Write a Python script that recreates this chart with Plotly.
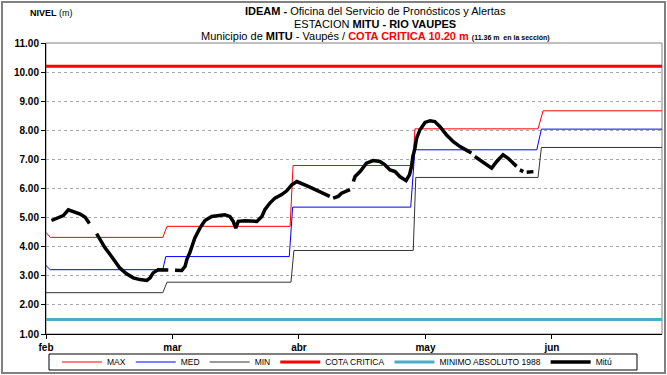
import plotly.graph_objects as go

# Eje X: días contados desde el 1 de febrero (etiquetas cada 30 días)
tick_dias = [0, 30, 60, 90, 120]
tick_meses = ["feb", "mar", "abr", "may", "jun"]
dia_final = 146.1

# Niveles históricos mensuales (m): máximo, medio y mínimo
max_dia = [0, 1, 27.7, 28.7, 57.9, 58.6, 87.0, 87.5, 116.7, 117.9, dia_final]
max_nivel = [4.49, 4.32, 4.32, 4.70, 4.70, 6.79, 6.79, 8.05, 8.05, 8.67, 8.67]

med_dia = [0, 1, 27.7, 28.4, 57.7, 58.5, 86.5, 87.5, 116.4, 117.5, dia_final]
med_nivel = [3.35, 3.21, 3.21, 3.66, 3.66, 5.36, 5.36, 7.33, 7.33, 8.04, 8.04]

min_dia = [0, 27.7, 28.7, 58.1, 58.8, 87.1, 87.7, 116.7, 117.5, dia_final]
min_nivel = [2.42, 2.42, 2.78, 2.78, 3.87, 3.87, 6.38, 6.38, 7.41, 7.41]

# Referencias fijas (m)
cota_critica = 10.20
minimo_absoluto_1988 = 1.50

# Nivel observado en Mitú (None = sin dato)
mitu_dia = [
    1.3, 2.9, 4.1, 5.3, 6.5, 8.1, 9.3, 10.3, None,
    12.0, 12.8, 14.0, 15.2, 16.4, 17.5, 19.1, 20.7, 22.3, 23.9, 24.7, 25.4,
    26.6, 27.8, 29.0, None,
    30.6, 32.2, 33.0, 33.4, 34.1, 34.6, 35.3, 36.5, 37.7, 39.3, 40.9, 42.4,
    43.6, 44.4, 45.0, 45.6, 47.2, 48.8, 50.0, 51.2, 51.9, 53.1, 54.3, 55.9,
    57.1, 58.3, 59.5, 62.2, 64.6, 67.3, None,
    68.1, 69.3, 70.1, 72.1, None,
    72.9, 73.3, 74.5, 75.6, 76.0, 77.6, 79.2, 80.4, 81.6, 82.8, 83.9, 85.4,
    86.2, 86.7, 87.0, 87.5, 87.9, 88.7, 89.9, 91.1, 92.2, 93.4, 95.0, 96.6,
    98.2, 99.8, 100.9, None,
    101.7, 102.9, 104.1, 105.7, 106.9, 108.4, 109.6, 110.8, 111.6, None,
    112.4, 113.2, None,
    114.0, 115.6,
]
mitu_nivel = [
    4.90, 4.99, 5.07, 5.27, 5.21, 5.12, 5.01, 4.80, None,
    4.45, 4.24, 3.96, 3.73, 3.50, 3.27, 3.07, 2.93, 2.87, 2.84, 2.93, 3.10,
    3.21, 3.20, 3.20, None,
    3.19, 3.18, 3.33, 3.56, 3.79, 4.01, 4.30, 4.64, 4.90, 5.04, 5.08, 5.10,
    5.04, 4.87, 4.64, 4.87, 4.89, 4.87, 4.87, 5.04, 5.27, 5.50, 5.67, 5.79,
    5.92, 6.13, 6.24, 6.07, 5.90, 5.73, None,
    5.67, 5.73, 5.84, 5.96, None,
    6.24, 6.41, 6.58, 6.76, 6.87, 6.96, 6.93, 6.81, 6.64, 6.58, 6.41, 6.27,
    6.47, 6.76, 7.10, 7.39, 7.73, 8.02, 8.27, 8.33, 8.30, 8.13, 7.84, 7.61,
    7.44, 7.31, 7.22, None,
    7.10, 6.99, 6.85, 6.70, 6.93, 7.16, 7.04, 6.87, 6.76, None,
    6.64, 6.58, None,
    6.56, 6.58,
]

FUENTE = "Liberation Sans Narrow, Liberation Sans, Arial, sans-serif"
FUENTE_EJES = "Liberation Sans, Arial, sans-serif"

fig = go.Figure()
fig.add_trace(go.Scatter(x=max_dia, y=max_nivel, name="MAX", mode="lines",
                         line=dict(color="#ff0000", width=1)))
fig.add_trace(go.Scatter(x=med_dia, y=med_nivel, name="MED", mode="lines",
                         line=dict(color="#0000ff", width=1)))
fig.add_trace(go.Scatter(x=min_dia, y=min_nivel, name="MIN", mode="lines",
                         line=dict(color="#333333", width=1)))
fig.add_trace(go.Scatter(x=[0, dia_final], y=[cota_critica, cota_critica],
                         name="COTA CRITICA", mode="lines",
                         line=dict(color="#ff0000", width=3)))
fig.add_trace(go.Scatter(x=[0, dia_final], y=[minimo_absoluto_1988] * 2,
                         name="MINIMO ABSOLUTO 1988", mode="lines",
                         line=dict(color="#4bacc6", width=3)))
fig.add_trace(go.Scatter(x=mitu_dia, y=mitu_nivel, name="Mitú", mode="lines",
                         connectgaps=False,
                         line=dict(color="#000000", width=3.5)))

L, R, T, B = 46, 5, 43, 41
W, H = 667, 375
ph = H - T - B
pw = W - L - R


def px(x):
    return (x - L) / pw


def py(y):
    return (H - B - y) / ph


fig.update_layout(
    width=W, height=H,
    margin=dict(l=L, r=R, t=T, b=B, autoexpand=False),
    paper_bgcolor="white", plot_bgcolor="white",
    font=dict(family=FUENTE, color="black"),
    showlegend=True,
    legend=dict(
        orientation="h",
        xref="container", x=337 / W, xanchor="center",
        yref="container", y=1 - 362 / H, yanchor="middle",
        borderwidth=0, bgcolor="rgba(0,0,0,0)",
        font=dict(family=FUENTE, size=8.5, color="black"),
        itemwidth=40, tracegroupgap=0,
    ),
    xaxis=dict(
        range=[0, dia_final], tickvals=tick_dias, ticktext=tick_meses,
        showgrid=False, zeroline=False, automargin=False,
        showline=True, linecolor="black", linewidth=1,
        ticks="outside", ticklen=4, tickcolor="black",
        tickfont=dict(family=FUENTE_EJES, size=10, weight="bold"),
    ),
    yaxis=dict(
        range=[1, 11], dtick=1, tick0=1, tickformat=".2f",
        showgrid=True, gridcolor="#a6a6a6", griddash="dot", gridwidth=1,
        zeroline=False, automargin=False,
        showline=True, linecolor="black", linewidth=1,
        ticks="outside", ticklen=4, tickcolor="black",
        tickfont=dict(family=FUENTE_EJES, size=10, weight="bold"),
    ),
)

# Borde del área de trazado, recuadro de la leyenda y marco exterior
fig.add_shape(type="rect", xref="paper", yref="paper", x0=0, x1=1, y0=0, y1=1,
              line=dict(color="#808080", width=1), layer="below")
fig.add_shape(type="rect", xref="paper", yref="paper",
              x0=px(49), x1=px(637), y0=py(370), y1=py(354),
              line=dict(color="black", width=1), fillcolor="white",
              layer="below")
fig.add_shape(type="rect", xref="paper", yref="paper",
              x0=px(2), x1=px(665), y0=py(373), y1=py(2),
              line=dict(color="#808080", width=2))

anot = [
    dict(text="<b>NIVEL</b> (m)", x=px(28), y=py(13), xanchor="left",
         font=dict(size=9)),
    dict(text="<b>IDEAM - </b>Oficina del Servicio de Pronósticos y Alertas",
         x=px(375), y=py(11), xanchor="center", font=dict(size=11)),
    dict(text="ESTACION <b>MITU - RIO VAUPES</b>",
         x=px(375), y=py(24), xanchor="center", font=dict(size=11)),
    dict(text="Municipio de <b>MITU</b> - Vaupés / "
              "<span style='color:#ff0000'><b>COTA CRITICA 10.20 m</b></span>"
              " <span style='font-size:7px'><b>(11.36 m  en la sección)</b></span>",
         x=px(375), y=py(36), xanchor="center", font=dict(size=11)),
]
for a in anot:
    fig.add_annotation(xref="paper", yref="paper", yanchor="middle",
                       showarrow=False, **a)

fig.write_html("out.html")
